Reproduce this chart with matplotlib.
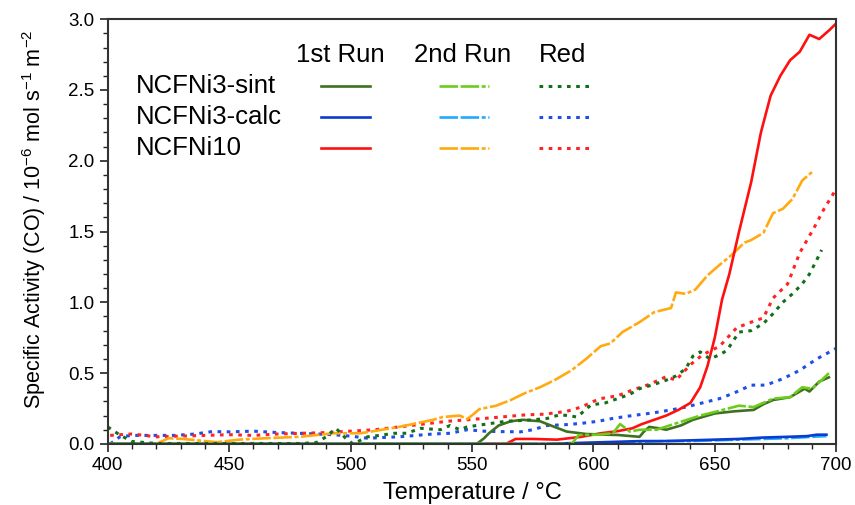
import matplotlib
matplotlib.use("Agg")
import matplotlib.pyplot as plt
from matplotlib.ticker import MultipleLocator

plt.rcParams['font.family'] = ['Liberation Sans', 'DejaVu Sans']
plt.rcParams['mathtext.fontset'] = 'custom'
plt.rcParams['mathtext.rm'] = 'Liberation Sans'
plt.rcParams['mathtext.it'] = 'Liberation Sans:italic'
plt.rcParams['mathtext.bf'] = 'Liberation Sans:bold'

# -------------------- Data --------------------

# NCFNi3-sint
sint_run1_t = [400, 450, 500, 552, 555, 557, 561, 566, 571, 578, 584, 589, 597, 605, 610, 619,
               621, 623, 627, 630, 636, 641, 645, 650, 658, 666, 670, 674, 681, 684, 687, 689,
               693, 697]
sint_run1_v = [0, 0, 0, 0, 0.04, 0.075, 0.13, 0.16, 0.17, 0.16, 0.12, 0.087, 0.07, 0.065, 0.063,
               0.05, 0.09, 0.12, 0.11, 0.10, 0.13, 0.17, 0.19, 0.215, 0.23, 0.24, 0.28, 0.31, 0.33,
               0.36, 0.39, 0.37, 0.44, 0.47]
sint_run2_t = [400, 500, 591, 594, 602, 608, 611, 615, 619, 626, 634, 644, 651, 660, 666, 674,
               681, 686, 690, 694, 697]
sint_run2_v = [0, 0, 0, 0.063, 0.065, 0.075, 0.14, 0.087, 0.10, 0.10, 0.145, 0.20, 0.23, 0.27,
               0.26, 0.32, 0.33, 0.40, 0.39, 0.45, 0.50]
sint_red_t = [400, 405, 410, 420, 440, 460, 480, 486, 490, 494, 498, 501, 507, 512, 518, 523,
              529, 537, 541, 545, 548, 556, 564, 570, 575, 581, 586, 590, 593, 595, 599, 605,
              610, 615, 619, 625, 630, 634, 638, 641, 644, 648, 652, 655, 660, 665, 670, 674,
              678, 682, 686, 689, 692, 694]
sint_red_v = [0.12, 0.063, 0.017, 0.003, 0.003, 0.003, 0.003, 0.01, 0.05, 0.11, 0.04, 0.0, 0.05,
              0.06, 0.075, 0.075, 0.11, 0.10, 0.13, 0.10, 0.12, 0.14, 0.16, 0.165, 0.17, 0.18,
              0.205, 0.20, 0.19, 0.215, 0.275, 0.29, 0.32, 0.35, 0.39, 0.42, 0.45, 0.48, 0.53,
              0.62, 0.65, 0.60, 0.63, 0.66, 0.79, 0.80, 0.85, 0.92, 1.00, 1.06, 1.13, 1.20,
              1.30, 1.37]

# NCFNi3-calc
calc_run1_t = [400, 500, 580, 590, 600, 610, 620, 630, 640, 650, 660, 670, 680, 688, 692, 696]
calc_run1_v = [0, 0, 0, 0.005, 0.01, 0.015, 0.02, 0.02, 0.025, 0.03, 0.035, 0.045, 0.05, 0.055,
               0.065, 0.065]
calc_run2_t = [400, 500, 590, 600, 610, 620, 630, 640, 650, 660, 670, 680, 690, 696]
calc_run2_v = [0, 0, 0, 0.005, 0.01, 0.015, 0.02, 0.02, 0.025, 0.03, 0.035, 0.04, 0.05, 0.055]
calc_red_t = [401, 405, 410, 420, 428, 436, 443, 450, 460, 470, 479, 486, 493, 500, 507, 513,
              520, 527, 534, 541, 548, 555, 561, 570, 575, 581, 588, 595, 602, 608, 616, 625,
              632, 638, 645, 652, 658, 665, 671, 678, 685, 692, 700]
calc_red_v = [0.0, 0.05, 0.06, 0.06, 0.06, 0.07, 0.087, 0.085, 0.09, 0.08, 0.075, 0.07, 0.065,
              0.055, 0.04, 0.045, 0.05, 0.06, 0.07, 0.075, 0.10, 0.09, 0.087, 0.085, 0.10, 0.13,
              0.135, 0.145, 0.16, 0.18, 0.20, 0.22, 0.24, 0.26, 0.29, 0.32, 0.36, 0.415, 0.415,
              0.46, 0.52, 0.60, 0.675]

# NCFNi10
ni10_run1_t = [556, 560, 564, 568, 575, 585, 590, 595, 603, 610, 616, 620, 625,
               630, 635, 640, 644, 647, 650, 653, 656, 660, 665, 669, 673, 677, 681, 685, 689,
               693, 697, 700]
ni10_run1_v = [0, 0, 0, 0.035, 0.035, 0.03, 0.04, 0.05, 0.075, 0.09, 0.11, 0.14, 0.17,
               0.20, 0.24, 0.29, 0.40, 0.55, 0.75, 1.02, 1.20, 1.50, 1.85, 2.20, 2.46, 2.60,
               2.71, 2.77, 2.89, 2.86, 2.92, 2.97]
ni10_run2_t = [420, 425, 431, 440, 445, 454, 465, 479, 493, 504, 513, 520, 527, 534, 538,
               545, 548, 551, 553, 560, 566, 572, 578, 584, 591, 597, 603, 607, 612, 619, 625,
               632, 634, 638, 642, 647, 651, 658, 662, 665, 670, 674, 678, 682, 686, 690]
ni10_run2_v = [0, 0.04, 0.035, 0.02, 0.012, 0.03, 0.04, 0.05, 0.075, 0.075, 0.10, 0.12,
               0.145, 0.17, 0.19, 0.20, 0.175, 0.215, 0.245, 0.27, 0.31, 0.36, 0.40, 0.45, 0.52,
               0.60, 0.69, 0.71, 0.79, 0.86, 0.93, 0.96, 1.07, 1.06, 1.09, 1.19, 1.25, 1.35,
               1.42, 1.44, 1.49, 1.63, 1.66, 1.73, 1.86, 1.92]
ni10_red_t = [401, 405, 410, 420, 430, 440, 450, 460, 470, 480, 490, 500, 510, 520, 530, 540,
              548, 555, 562, 572, 580, 589, 595, 600, 603, 610, 616, 623, 630, 634, 640, 645,
              652, 659, 665, 670, 674, 680, 685, 691, 695, 700]
ni10_red_v = [0.06, 0.065, 0.07, 0.05, 0.055, 0.06, 0.065, 0.06, 0.07, 0.075, 0.08, 0.09, 0.10,
              0.12, 0.14, 0.16, 0.17, 0.18, 0.19, 0.205, 0.21, 0.23, 0.26, 0.30, 0.32, 0.34,
              0.38, 0.42, 0.475, 0.45, 0.56, 0.63, 0.69, 0.82, 0.86, 0.89, 1.03, 1.13, 1.35,
              1.53, 1.66, 1.80]

sample_names = ['NCFNi3-sint', 'NCFNi3-calc', 'NCFNi10']
run_names = ['1st Run', '2nd Run', 'Red']

# -------------------- Styles --------------------

DASHDOT = (0, (7, 1, 7, 1, 1.5, 1))
DOTTED = (0, (1.2, 1.8))

colors = {
    'sint': ['#3f7020', '#6ccc1c', '#12701a'],
    'calc': ['#0a3cd0', '#22aaff', '#1f4fe6'],
    'ni10': ['#ff1010', '#ffaa10', '#ff2424'],
}
styles = ['-', DASHDOT, DOTTED]
widths = [1.9, 1.9, 2.2]

# -------------------- Plot --------------------

fig = plt.figure(figsize=(8.55, 5.05), dpi=100)
ax = fig.add_axes([0.126, 0.121, 0.852, 0.841])

series = [
    ('calc', calc_run2_t, calc_run2_v, 1), ('calc', calc_run1_t, calc_run1_v, 0),
    ('calc', calc_red_t, calc_red_v, 2),
    ('ni10', ni10_red_t, ni10_red_v, 2), ('ni10', ni10_run2_t, ni10_run2_v, 1),
    ('ni10', ni10_run1_t, ni10_run1_v, 0),
    ('sint', sint_run1_t, sint_run1_v, 0), ('sint', sint_run2_t, sint_run2_v, 1),
    ('sint', sint_red_t, sint_red_v, 2),
]
for key, t, v, k in series:
    ax.plot(t, v, color=colors[key][k], linestyle=styles[k], linewidth=widths[k])

ax.set_xlim(400, 700)
ax.set_ylim(0, 3.0)
ax.xaxis.set_major_locator(MultipleLocator(50))
ax.xaxis.set_minor_locator(MultipleLocator(10))
ax.yaxis.set_major_locator(MultipleLocator(0.5))
ax.yaxis.set_minor_locator(MultipleLocator(0.1))
ax.yaxis.set_major_formatter(plt.FormatStrFormatter('%.1f'))
ax.tick_params(which='both', direction='out', top=False, right=False, labelsize=13.5, color='#222222')
ax.tick_params(which='major', length=6, width=1.2)
ax.tick_params(which='minor', length=3.5, width=1.0)
for sp in ax.spines.values():
    sp.set_linewidth(1.5)
    sp.set_color('#333333')

ax.set_xlabel('Temperature / °C', fontsize=17)
ax.xaxis.set_label_coords(0.501, -0.09)
ax.set_ylabel(r'Specific Activity (CO) / 10$^{-6}$ mol s$^{-1}$ m$^{-2}$', fontsize=15.5)
ax.yaxis.set_label_coords(-0.082, 0.53)

# legend table
header_x = [0.319, 0.487, 0.624]
line_x = [(0.293, 0.360), (0.455, 0.523), (0.592, 0.663)]
row_y = [0.842, 0.769, 0.696]
for name, x in zip(run_names, header_x):
    ax.text(x, 0.915, name, transform=ax.transAxes, fontsize=18.5, ha='center', va='center')
for name, key, y in zip(sample_names, ['sint', 'calc', 'ni10'], row_y):
    ax.text(0.038, y, name, transform=ax.transAxes, fontsize=18.5, ha='left', va='center')
    for k, (x0, x1) in enumerate(line_x):
        ax.plot([x0, x1], [y, y], transform=ax.transAxes, color=colors[key][k],
                linestyle=styles[k], linewidth=widths[k])

fig.savefig('out.png', dpi=100)
